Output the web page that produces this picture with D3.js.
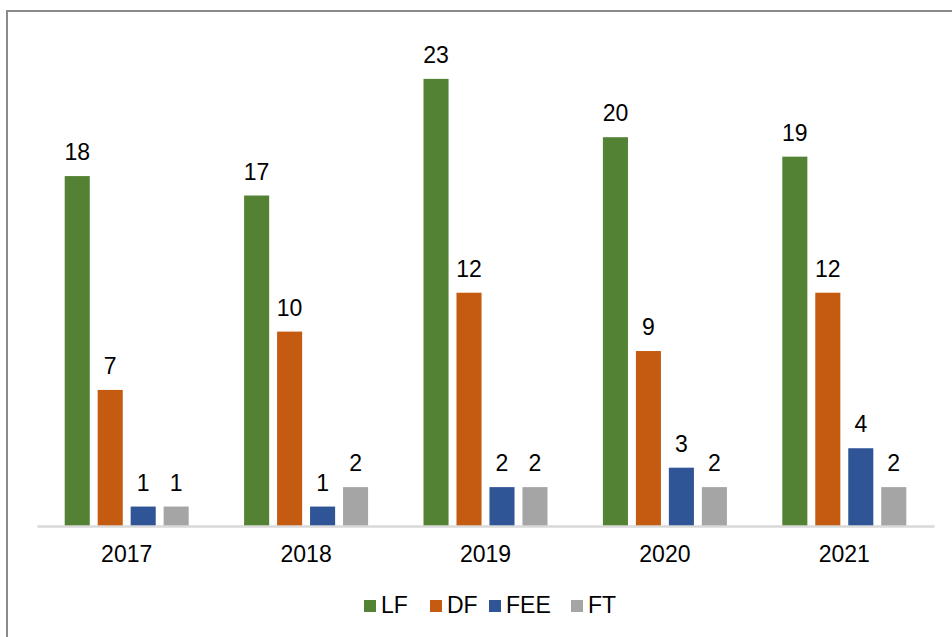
<!DOCTYPE html>
<html>
<head>
    <title>grouped bars</title>
</head>
<meta charset="utf-8">
<style type="text/css">
    html, body {
        margin: 0;
        background: #fff;
        font-family: "Liberation Sans", Arial, sans-serif;
    }
    svg {
        display: block;
    }
</style>
<body>
<svg id="wrapper" width="952" height="637"></svg>

<script src="https://d3js.org/d3.v7.min.js"></script>
<script>
    "use strict";

    // data
    const years = ["2017", "2018", "2019", "2020", "2021"];
    const seriesNames = ["LF", "DF", "FEE", "FT"];
    const lfValues = [18, 17, 23, 20, 19];
    const dfValues = [7, 10, 12, 9, 12];
    const feeValues = [1, 1, 2, 3, 4];
    const ftValues = [1, 2, 2, 2, 2];
    const colors = ["#548235", "#c55a11", "#2f5597", "#a5a5a5"];

    const valuesBySeries = [lfValues, dfValues, feeValues, ftValues];

    const svg = d3.select("svg"),
        left = 37,
        right = 934,
        baseY = 526,
        fontSize = 23;

    // outer frame, runs off the right and bottom edges
    svg.append("rect")
        .attr("x", 7)
        .attr("y", 11)
        .attr("width", 1000)
        .attr("height", 1000)
        .attr("fill", "none")
        .attr("stroke", "#8a8a8a")
        .attr("stroke-width", 2);

    const x0 = d3.scaleBand()
        .domain(years)
        .range([left, right]);

    const groupPad = 27.7;
    const x1 = d3.scaleBand()
        .domain(seriesNames)
        .range([groupPad, x0.bandwidth() - groupPad])
        .paddingInner(0.24)
        .paddingOuter(0);

    const y = d3.scaleLinear()
        .domain([0, 25])
        .range([baseY, baseY - 25 * 19.44]);

    const color = d3.scaleOrdinal()
        .domain(seriesNames)
        .range(colors);

    const rows = [];
    years.forEach((yr, i) => {
        seriesNames.forEach((s, j) => {
            rows.push({year: yr, series: s, value: valuesBySeries[j][i]});
        });
    });

    const g = svg.append("g");

    g.selectAll(".bar")
        .data(rows)
        .enter()
        .append("rect")
        .attr("class", "bar")
        .attr("x", d => x0(d.year) + x1(d.series))
        .attr("y", d => y(d.value))
        .attr("width", x1.bandwidth())
        .attr("height", d => y(0) - y(d.value))
        .attr("fill", d => color(d.series));

    g.selectAll(".val")
        .data(rows)
        .enter()
        .append("text")
        .attr("class", "val")
        .attr("x", d => x0(d.year) + x1(d.series) + x1.bandwidth() / 2)
        .attr("y", d => y(d.value) - 16)
        .attr("text-anchor", "middle")
        .attr("font-size", fontSize)
        .attr("fill", "#000")
        .text(d => d.value);

    // category axis
    const xAxis = svg.append("g")
        .attr("transform", "translate(0," + baseY + ")")
        .call(d3.axisBottom(x0).tickSize(0).tickPadding(20));
    xAxis.select(".domain")
        .attr("stroke", "#d9d9d9")
        .attr("stroke-width", 2.5);
    xAxis.selectAll("text")
        .attr("font-family", "Liberation Sans, Arial, sans-serif")
        .attr("font-size", fontSize)
        .attr("fill", "#000");

    // legend
    const legendX = [364, 430, 489, 571];
    const legend = svg.append("g")
        .selectAll("g")
        .data(seriesNames)
        .enter()
        .append("g")
        .attr("transform", (d, i) => "translate(" + legendX[i] + ",600)");
    legend.append("rect")
        .attr("width", 12)
        .attr("height", 12)
        .attr("fill", d => color(d));
    legend.append("text")
        .attr("x", 17)
        .attr("y", 13)
        .attr("font-size", fontSize)
        .attr("fill", "#000")
        .text(d => d);
</script>
</body>
</html>
